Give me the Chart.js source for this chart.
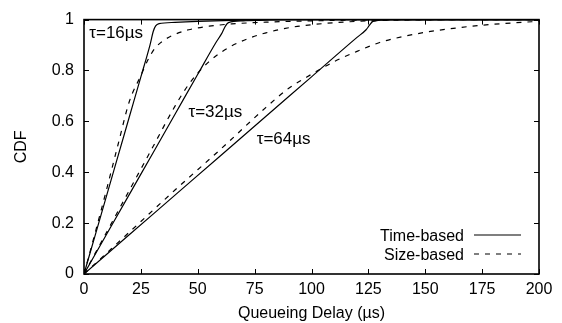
<!DOCTYPE html>
<html>
<head>
<meta charset="utf-8">
<script src="https://cdn.jsdelivr.net/npm/chart.js@4.4.1/dist/chart.umd.min.js"></script>
<style>
  html, body { margin: 0; padding: 0; background: #fff; }
  #wrap { width: 562px; height: 323px; }
</style>
</head>
<body>
<div id="wrap"><canvas id="cdf"></canvas></div>
<script>
const xTicks = [0, 25, 50, 75, 100, 125, 150, 175, 200]
const yTicks = [0, 0.2, 0.4, 0.6, 0.8, 1]
const yTickLabels = ["0", "0.2", "0.4", "0.6", "0.8", "1"]

// queueing delay (us) vs CDF, one pair of arrays per curve
const time16X = [0, 5, 10, 15, 20, 25, 29, 30.5, 31.5, 33, 40, 50, 65, 80, 200]
const time16Y = [0, 0.155, 0.31, 0.465, 0.62, 0.775, 0.9, 0.955, 0.975, 0.984, 0.989, 0.993, 0.997, 1, 1]
const size16X = [0, 5, 10, 15, 20, 25, 28, 31, 35, 40, 46, 55, 65, 80, 100, 130, 160, 200]
const size16Y = [0, 0.165, 0.335, 0.51, 0.68, 0.78, 0.84, 0.885, 0.918, 0.942, 0.96, 0.974, 0.983, 0.99, 0.995, 0.999, 1, 1]

const time32X = [0, 10, 20, 30, 40, 50, 58, 60.5, 62, 63.5, 70, 90, 200]
const time32Y = [0, 0.157, 0.314, 0.471, 0.628, 0.785, 0.91, 0.945, 0.972, 0.988, 0.995, 1, 1]
const size32X = [0, 10, 20, 30, 40, 46, 50, 55, 60, 65, 72, 80, 90, 100, 120, 150, 200]
const size32Y = [0, 0.165, 0.33, 0.495, 0.66, 0.745, 0.79, 0.835, 0.87, 0.897, 0.925, 0.948, 0.968, 0.98, 0.993, 0.999, 1]

const time64X = [0, 20, 40, 60, 80, 100, 120, 124, 125.5, 127, 135, 200]
const time64Y = [0, 0.155, 0.31, 0.465, 0.62, 0.775, 0.93, 0.96, 0.978, 0.993, 1, 1]
const size64X = [0, 20, 40, 60, 80, 90, 100, 110, 120, 130, 140, 150, 160, 175, 190, 200]
const size64Y = [0, 0.165, 0.33, 0.49, 0.655, 0.73, 0.785, 0.835, 0.875, 0.91, 0.933, 0.95, 0.963, 0.978, 0.988, 0.993]

const legendNames = ["Time-based", "Size-based"]

// curve labels: text, x (us), y (CDF) of baseline start
const tauLabels = ["τ=16µs", "τ=32µs", "τ=64µs"]
const tauLabelX = [2.3, 45.9, 75.9]
const tauLabelY = [0.928, 0.619, 0.511]

const FONT = "'Liberation Sans', Arial, Helvetica, sans-serif"
const DASH = [5, 6]

function pts(xs, ys) {
  return xs.map((x, i) => ({ x: x, y: ys[i] }))
}

function curve(xs, ys, dashed) {
  return {
    data: pts(xs, ys),
    borderColor: "#000",
    borderWidth: 1.2,
    borderDash: dashed ? DASH : [],
    pointRadius: 0,
    fill: false,
    cubicInterpolationMode: "monotone"
  }
}

// gnuplot-like frame: full border, inward ticks on all four sides,
// curve labels and a right-aligned key inside the plot
const framePlugin = {
  id: "frame",
  afterDatasetsDraw(chart) {
    const ctx = chart.ctx
    const { left, right, top, bottom } = chart.chartArea
    const xs = chart.scales.x
    const ys = chart.scales.y
    const tl = 5

    ctx.save()
    ctx.strokeStyle = "#000"
    ctx.lineWidth = 1
    ctx.setLineDash([])
    xTicks.forEach(v => {
      const px = Math.round(xs.getPixelForValue(v)) + 0.5
      ctx.beginPath()
      ctx.moveTo(px, bottom); ctx.lineTo(px, bottom - tl)
      ctx.moveTo(px, top); ctx.lineTo(px, top + tl)
      ctx.stroke()
    })
    yTicks.forEach(v => {
      const py = Math.round(ys.getPixelForValue(v)) + 0.5
      ctx.beginPath()
      ctx.moveTo(left, py); ctx.lineTo(left + tl, py)
      ctx.moveTo(right, py); ctx.lineTo(right - tl, py)
      ctx.stroke()
    })
    ctx.lineWidth = 1.6
    ctx.strokeRect(left, top, right - left, bottom - top)

    ctx.fillStyle = "#000"
    ctx.font = "17px " + FONT
    ctx.textBaseline = "alphabetic"
    ctx.textAlign = "left"
    tauLabels.forEach((t, i) => {
      ctx.fillText(t, xs.getPixelForValue(tauLabelX[i]), ys.getPixelForValue(tauLabelY[i]))
    })

    // key
    ctx.font = "16px " + FONT
    const lineEnd = right - 18
    const lineStart = lineEnd - 47
    const rows = [bottom - 39, bottom - 20]
    ctx.textAlign = "right"
    legendNames.forEach((name, i) => {
      const ds = chart.data.datasets[i]
      ctx.fillText(name, lineStart - 10, rows[i] + 6)
      ctx.lineWidth = 1.2
      ctx.setLineDash(ds.borderDash)
      ctx.beginPath()
      ctx.moveTo(lineStart, rows[i])
      ctx.lineTo(lineEnd, rows[i])
      ctx.stroke()
    })
    ctx.restore()
  }
}

new Chart(document.getElementById("cdf"), {
  type: "line",
  data: {
    datasets: [
      curve(time16X, time16Y, false),
      curve(size16X, size16Y, true),
      curve(time32X, time32Y, false),
      curve(size32X, size32Y, true),
      curve(time64X, time64Y, false),
      curve(size64X, size64Y, true)
    ]
  },
  options: {
    responsive: true,
    maintainAspectRatio: false,
    animation: false,
    events: [],
    layout: { padding: { top: 10, right: 23, left: 0, bottom: 0 } },
    plugins: {
      legend: { display: false },
      tooltip: { enabled: false }
    },
    scales: {
      x: {
        type: "linear",
        min: 0,
        max: 200,
        grid: { display: false, drawTicks: false },
        border: { display: false },
        afterBuildTicks: s => { s.ticks = xTicks.map(v => ({ value: v })) },
        afterFit: s => { s.height = 49 },
        ticks: {
          color: "#000",
          padding: 6,
          maxRotation: 0,
          font: { family: FONT, size: 16 }
        },
        title: {
          display: true,
          text: "Queueing Delay (µs)",
          color: "#000",
          font: { family: FONT, size: 16 },
          padding: { top: 2, bottom: 0 }
        }
      },
      y: {
        min: 0,
        max: 1,
        grid: { display: false, drawTicks: false },
        border: { display: false },
        afterBuildTicks: s => { s.ticks = yTicks.map(v => ({ value: v })) },
        afterFit: s => { s.width = 84 },
        ticks: {
          color: "#000",
          padding: 10,
          font: { family: FONT, size: 16 },
          callback: (v) => yTickLabels[yTicks.indexOf(v)]
        },
        title: {
          display: true,
          text: "CDF",
          color: "#000",
          font: { family: FONT, size: 16 },
          padding: { top: 12, bottom: 0 }
        }
      }
    }
  },
  plugins: [framePlugin]
})
</script>
</body>
</html>
